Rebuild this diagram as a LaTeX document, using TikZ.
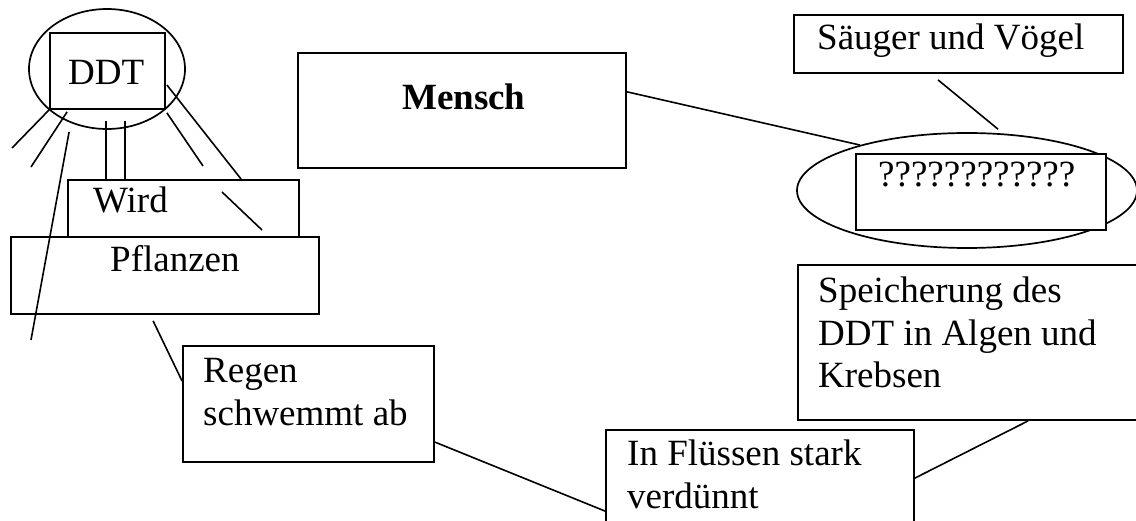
\documentclass[tikz,border=0pt]{standalone}
\usepackage{fontspec}
\setmainfont{Liberation Serif}
\usetikzlibrary{calc,shapes.geometric}
\begin{document}
\begin{tikzpicture}[x=1pt,y=-1pt,
  every node/.style={font=\fontsize{37}{42.5}\selectfont},
  box/.style={draw, rectangle, fill=white, inner sep=0pt, line width=1.8pt},
  oval/.style={draw, ellipse, inner sep=0pt, line width=1.7pt},
  link/.style={line width=1.6pt},
  txt/.style={inner sep=0pt, anchor=base west, align=left}]
\useasboundingbox (0,0) rectangle (1136,521);
\clip (0,0) rectangle (1136,521);

% DDT group
\node[oval, minimum width=156pt, minimum height=120pt] (ddtell) at (107,69) {};
\node[box, minimum width=115pt, minimum height=76pt] (ddtbox) at (107.5,71) {};

% free ends of the rays around DDT
\coordinate (r1) at (12,148);
\coordinate (r2) at (31,167);
\coordinate (r3) at (31,340);
\coordinate (r4) at (203,166);
\coordinate (w1) at (222,192);
\coordinate (w2) at (262,230);

\draw[link] (ddtbox.south west) -- (r1);
\draw[link] ($(ddtbox.south west)+(18,2)$) -- (r2);
\draw[link] ($(ddtbox.south east)+(1,3)$) -- (r4);

% Wird box, partly hidden under Pflanzen
\node[box, minimum width=231pt, minimum height=80pt] (wird) at (183.5,220) {};
\draw[link] ($(wird.north west)+(39,-58)$) -- ($(wird.north west)+(39,0)$);
\draw[link] ($(wird.north west)+(58,-58)$) -- ($(wird.north west)+(58,0)$);
\draw[link] ($(ddtbox.east)+(1,14)$) -- ($(wird.north west)+(174,0)$);
\draw[link] (w1) -- (w2);

\node[box, minimum width=308pt, minimum height=77pt] (pflanzen) at (165,275.5) {};
\draw[link] ($(ddtbox.south west)+(20,22)$) -- (r3);

% Mensch and the chain on the right
\node[box, minimum width=328pt, minimum height=115pt] (mensch) at (462,110.5) {};
\node[box, minimum width=329pt, minimum height=58pt] (saeuger) at (958.5,44) {};
\node[oval, minimum width=340pt, minimum height=115pt] (qell) at (967,190.5) {};
\node[box, minimum width=250pt, minimum height=76pt] (qbox) at (981,192) {};
\node[box, minimum width=352pt, minimum height=155pt] (speicher) at (974,342.5) {};
\node[box, minimum width=308pt, minimum height=110pt] (fluss) at (760,485) {};
\node[box, minimum width=251pt, minimum height=116pt] (regen) at (308.5,404) {};

\draw[link] ($(mensch.north east)!0.34!(mensch.south east)$) -- (qell.157);
\draw[link] ($(saeuger.south)+(-20.5,6)$) -- ($(qell.north)+(31,-3)$);
\draw[link] ($(speicher.south west)+(231,0)$) -- ($(fluss.north east)+(0,49)$);
\draw[link] ($(regen.north east)+(0,97)$) -- ($(fluss.north west)+(0,82)$);
\draw[link] ($(pflanzen.south west)+(143,6)$) -- ($(regen.north west)+(0,36)$);

% texts (multi-line texts are placed by the baseline of their last line)
\node[txt] (tddt) at (68,85) {DDT};
\node[txt] (twird) at (93,213) {Wird};
\node[txt] (tpfl) at (110,272) {Pflanzen};
\node[txt] (tmensch) at (402,110) {\bfseries Mensch};
\node[txt] (tsaeuger) at (817,50) {Säuger und Vögel};
\node[txt] (tq) at (878,187) {????????????};
\node[txt] (tspeicher) at (818,388) {Speicherung des\\DDT in Algen und\\Krebsen};
\node[txt] (tfluss) at (627,508) {In Flüssen stark\\verdünnt};
\node[txt] (tregen) at (203,425) {Regen\\schwemmt ab};
\end{tikzpicture}
\end{document}
